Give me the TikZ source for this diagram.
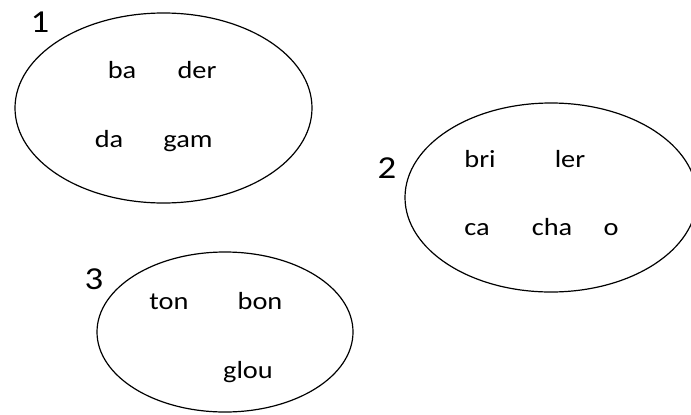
\documentclass[tikz,border=0pt]{standalone}
\usepackage{fontspec}
\setmainfont{Carlito}[FakeStretch=1.15]
\usetikzlibrary{shapes.geometric, positioning}

\begin{document}
\begin{tikzpicture}[x=0.75pt, y=-0.75pt,
    group/.style={ellipse, draw, line width=0.9pt, inner sep=0pt},
    word/.style={anchor=base, font=\fontsize{18.5}{22}\selectfont},
    num/.style={font=\fontsize{24}{28}\selectfont}]
  \useasboundingbox (0,0) rectangle (691,414);

  % group 1
  \node[group, minimum width=222.75pt, minimum height=142.5pt] (g1) at (163.5,108) {};
  \node[num] (n1) at (40,22) {1};
  \node[word] (ba) at (122,78) {ba};
  \node[word] (der) at (197,78) {der};
  \node[word] (da) at (109,147) {da};
  \node[word] (gam) at (188,147) {gam};

  % group 2
  \node[group, minimum width=219pt, minimum height=141.75pt] (g2) at (551,197.5) {};
  \node[num] (n2) at (387,168) {2};
  \node[word] (bri) at (480,167) {bri};
  \node[word] (ler) at (570,167) {ler};
  \node[word] (ca) at (477,235) {ca};
  \node[word] (cha) at (552,235) {cha};
  \node[word] (o) at (611,235) {o};

  % group 3
  \node[group, minimum width=192pt, minimum height=120pt] (g3) at (225,332) {};
  \node[num] (n3) at (94,279) {3};
  \node[word] (ton) at (169,309) {ton};
  \node[word] (bon) at (260,309) {bon};
  \node[word] (glou) at (248,378) {glou};
\end{tikzpicture}
\end{document}
